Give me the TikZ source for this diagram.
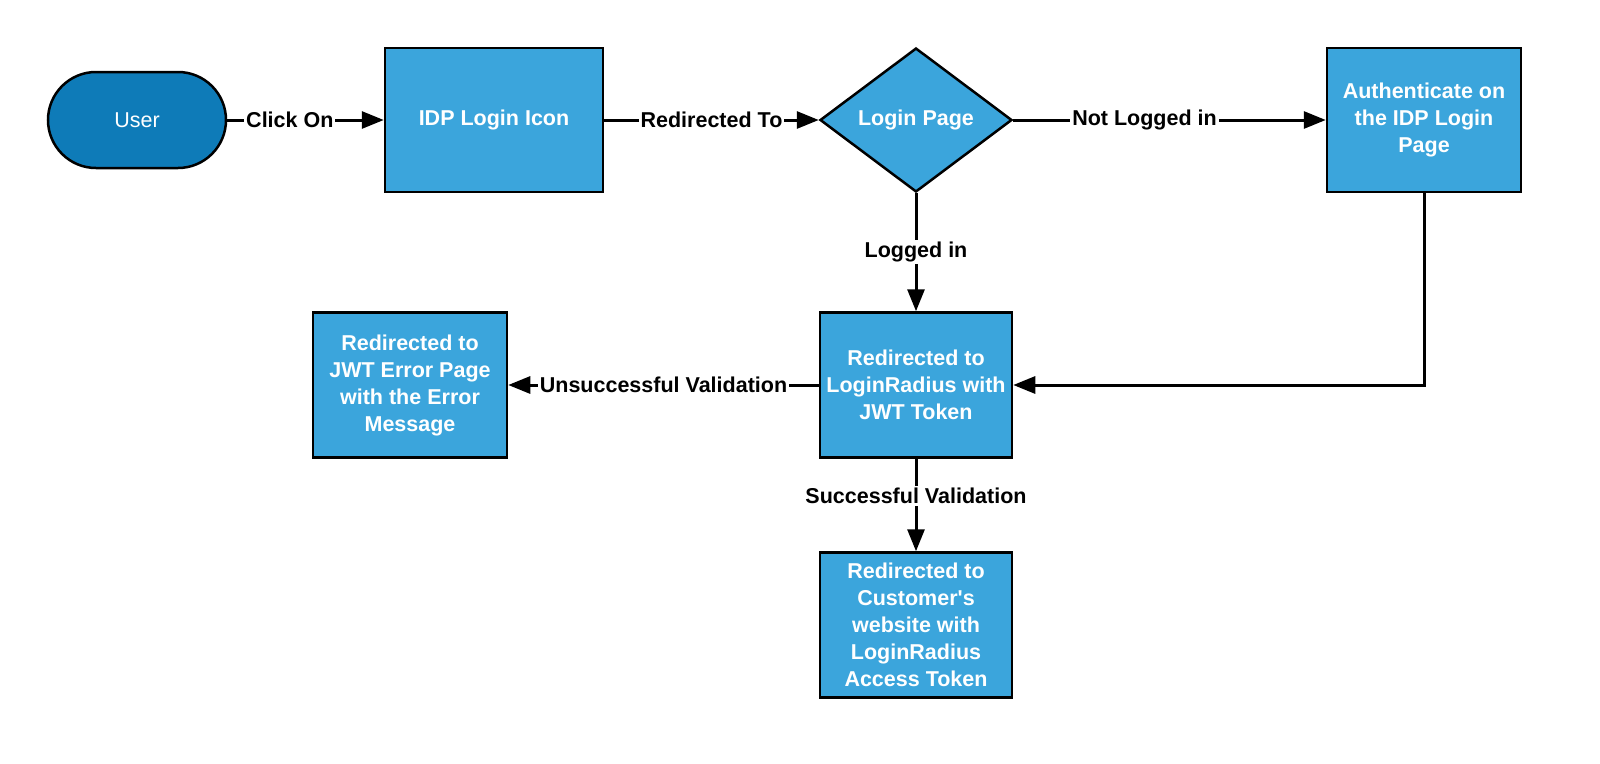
\documentclass[tikz,border=0pt]{standalone}
\usepackage{fontspec}
\setmainfont{Liberation Sans}
\usepackage{tikz}
\usetikzlibrary{shapes.geometric, arrows.meta, positioning}
\definecolor{idpBlue}{HTML}{3BA5DC}
\definecolor{userBlue}{HTML}{0E7BB8}

\begin{document}
\begin{tikzpicture}[
    x=1pt, y=-1pt,
    font=\fontsize{21.5}{27}\selectfont,
    block/.style={rectangle, draw, line width=2.5pt, fill=idpBlue, text=white, minimum width=194pt, minimum height=145pt, align=center, font=\fontsize{21.5}{27}\selectfont\bfseries},
    decision/.style={diamond, draw, line width=2.5pt, fill=idpBlue, text=white, minimum width=192pt, minimum height=144pt, inner sep=0pt, font=\fontsize{21.5}{27}\selectfont\bfseries},
    terminal/.style={rectangle, rounded corners=48pt, draw, line width=2.5pt, fill=userBlue, text=white, minimum width=178pt, minimum height=96pt},
    lbl/.style={fill=white, inner sep=2pt, font=\fontsize{21.5}{27}\selectfont\bfseries},
    arrow/.style={-{Triangle[length=22pt, width=17pt]}, line width=3pt},
]
    \useasboundingbox (0,0) rectangle (1600,763);

    \node[terminal] (user) at (137,120) {User};
    \node[block, minimum width=218pt, minimum height=144pt] (idp) at (494,120) {IDP Login Icon};
    \node[decision] (login) at (916,120) {Login Page};
    \node[block, minimum height=144pt] (auth) at (1424,120) {Authenticate on\\the IDP Login\\Page};
    \node[block, minimum width=192pt] (jwt) at (916,385) {Redirected to\\LoginRadius with\\JWT Token};
    \node[block] (error) at (410,385) {Redirected to\\JWT Error Page\\with the Error\\Message};
    \node[block, minimum width=192pt] (customer) at (916,625) {Redirected to\\Customer\textquotesingle s\\website with\\LoginRadius\\Access Token};

    \draw[arrow] (user) -- node[lbl, pos=0.4] {Click On} (idp);
    \draw[arrow] (idp) -- node[lbl] {Redirected To} (login);
    \draw[arrow] (login) -- node[lbl, pos=0.42] {Not Logged in} (auth);
    \draw[arrow] (login) -- node[lbl] {Logged in} (jwt);
    \draw[arrow] (auth.south) |- (jwt.east);
    \draw[arrow] (jwt) -- node[lbl] {Unsuccessful Validation} (error);
    \draw[arrow] (jwt) -- node[lbl, pos=0.4] {Successful Validation} (customer);
\end{tikzpicture}
\end{document}
